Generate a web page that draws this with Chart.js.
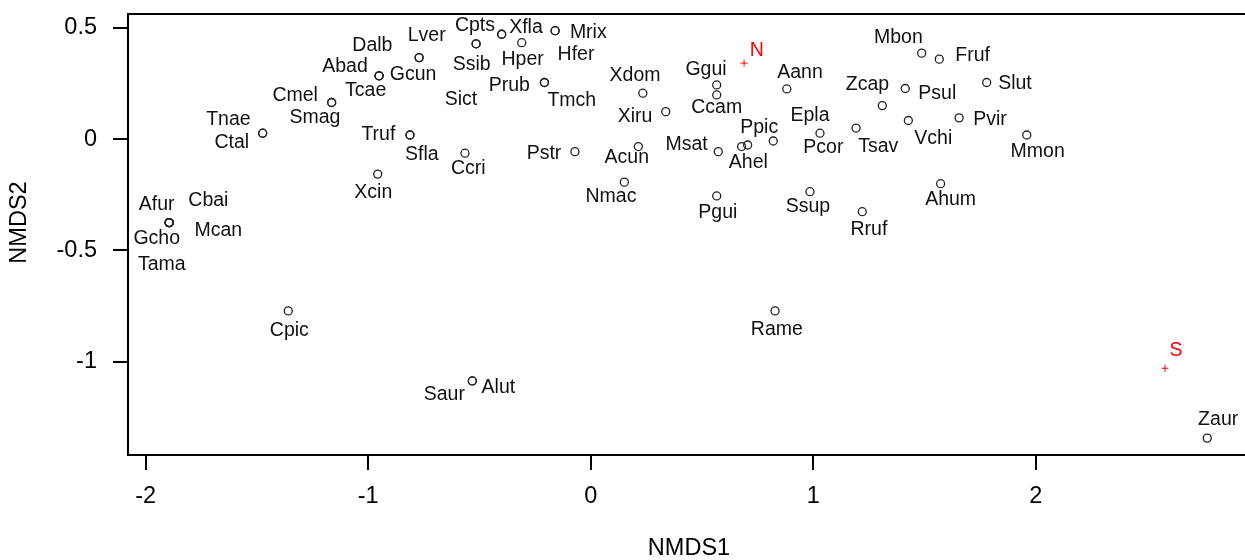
<!DOCTYPE html>
<html>
<head>
<meta charset="utf-8">
<title>NMDS</title>
<script src="https://cdn.jsdelivr.net/npm/chart.js@4"></script>
<style>
  html, body { margin: 0; padding: 0; background: #fff; overflow: hidden; }
  #wrap { width: 1245px; height: 560px; overflow: hidden; }
</style>
</head>
<body>
<div id="wrap"><canvas id="nmdsChart" width="1260" height="560"></canvas></div>
<script>
// species scores (point) and where the label sits
const species = ['Tnae', 'Ctal', 'Cmel', 'Smag', 'Abad', 'Tcae', 'Gcun', 'Dalb', 'Lver', 'Ssib',
    'Sict', 'Cpts', 'Xfla', 'Hper', 'Mrix', 'Hfer', 'Prub', 'Tmch', 'Xdom', 'Xiru',
    'Ggui', 'Ccam', 'Aann', 'Truf', 'Sfla', 'Ccri', 'Pstr', 'Acun', 'Nmac', 'Msat',
    'Ahel', 'Ppic', 'Epla', 'Pcor', 'Pgui', 'Ssup', 'Mbon', 'Fruf', 'Slut', 'Psul',
    'Zcap', 'Vchi', 'Pvir', 'Tsav', 'Mmon', 'Ahum', 'Rruf', 'Afur', 'Cbai', 'Gcho',
    'Mcan', 'Tama', 'Xcin', 'Cpic', 'Saur', 'Alut', 'Rame', 'Zaur'];
const spX = [-1.474, -1.474, -1.164, -1.164, -0.951, -0.951, -0.951, -0.771, -0.771, -0.515,
    -0.515, -0.400, -0.400, -0.310, -0.160, -0.160, -0.208, -0.208, 0.234, 0.337,
    0.566, 0.566, 0.881, -0.812, -0.812, -0.565, -0.071, 0.214, 0.151, 0.573,
    0.678, 0.705, 0.820, 1.030, 0.566, 0.985, 1.487, 1.566, 1.779, 1.413,
    1.310, 1.427, 1.655, 1.192, 1.959, 1.572, 1.220, -1.894, -1.894, -1.894,
    -1.894, -1.894, -0.957, -1.359, -0.532, -0.532, 0.828, 2.770];
const spY = [0.027, 0.027, 0.165, 0.165, 0.285, 0.285, 0.285, 0.367, 0.367, 0.429,
    0.429, 0.472, 0.472, 0.434, 0.488, 0.488, 0.255, 0.255, 0.207, 0.124,
    0.244, 0.199, 0.226, 0.019, 0.019, -0.063, -0.056, -0.033, -0.193, -0.056,
    -0.033, -0.026, -0.008, 0.027, -0.255, -0.236, 0.387, 0.360, 0.255, 0.228,
    0.151, 0.084, 0.096, 0.050, 0.019, -0.200, -0.326, -0.375, -0.375, -0.375,
    -0.375, -0.375, -0.157, -0.772, -1.087, -1.087, -0.772, -1.344];
const labX = [-1.628, -1.613, -1.328, -1.239, -1.104, -1.011, -0.798, -0.981, -0.737, -0.535,
    -0.583, -0.520, -0.291, -0.306, -0.011, -0.066, -0.366, -0.085, 0.199, 0.199,
    0.518, 0.566, 0.940, -0.954, -0.759, -0.550, -0.210, 0.162, 0.091, 0.431,
    0.708, 0.757, 0.985, 1.045, 0.571, 0.976, 1.382, 1.716, 1.906, 1.557,
    1.243, 1.539, 1.794, 1.292, 2.008, 1.617, 1.250, -1.950, -1.718, -1.950,
    -1.673, -1.927, -0.977, -1.354, -0.658, -0.415, 0.836, 2.819];
const labY = [0.094, -0.011, 0.199, 0.102, 0.330, 0.224, 0.294, 0.427, 0.469, 0.342,
    0.182, 0.514, 0.506, 0.364, 0.484, 0.387, 0.244, 0.177, 0.289, 0.105,
    0.316, 0.147, 0.303, 0.027, -0.063, -0.130, -0.060, -0.078, -0.255, -0.021,
    -0.101, 0.057, 0.109, -0.033, -0.326, -0.300, 0.461, 0.382, 0.255, 0.211,
    0.252, 0.009, 0.094, -0.030, -0.053, -0.268, -0.400, -0.291, -0.270, -0.441,
    -0.405, -0.558, -0.236, -0.854, -1.145, -1.112, -0.850, -1.255];

// site scores (red crosses)
const sites = ['N', 'S'];
const siteX = [0.689, 2.580];
const siteY = [0.342, -1.030];
const siteLabX = [0.746, 2.629];
const siteLabY = [0.405, -0.947];

const xTicks = [-2, -1, 0, 1, 2];
const yTicks = [0.5, 0, -0.5, -1];

document.addEventListener("DOMContentLoaded", () => {

    const fontFamily = "'Liberation Sans', Arial, Helvetica, sans-serif";

    // labels drawn next to the points, through the chart scales
    const labelPlugin = {
        id: 'pointLabels',
        afterDatasetsDraw(chart) {
            const ctx = chart.ctx;
            const xs = chart.scales.x;
            const ys = chart.scales.y;
            ctx.save();
            ctx.font = `19.5px ${fontFamily}`;
            ctx.textAlign = 'center';
            ctx.textBaseline = 'middle';
            ctx.fillStyle = '#111';
            // +1 so the cap height sits where R put it
            species.forEach((name, i) => {
                ctx.fillText(name, xs.getPixelForValue(labX[i]), ys.getPixelForValue(labY[i]) + 1);
            });
            ctx.fillStyle = '#ff0000';
            sites.forEach((name, i) => {
                ctx.fillText(name, xs.getPixelForValue(siteLabX[i]), ys.getPixelForValue(siteLabY[i]) + 1);
            });
            ctx.restore();
        }
    };

    // box round the plot region + the NMDS2 title (sits a bit above centre in the original)
    const boxPlugin = {
        id: 'plotBox',
        afterDraw(chart) {
            const a = chart.chartArea;
            const ctx = chart.ctx;
            ctx.save();
            ctx.strokeStyle = '#000';
            ctx.lineWidth = 2;
            ctx.strokeRect(a.left, a.top, a.right - a.left, a.bottom - a.top);

            ctx.translate(20, (a.top + a.bottom) / 2 - 12);
            ctx.rotate(-Math.PI / 2);
            ctx.font = `23.5px ${fontFamily}`;
            ctx.fillStyle = '#000';
            ctx.textAlign = 'center';
            ctx.textBaseline = 'middle';
            ctx.fillText('NMDS2', 0, 0);
            ctx.restore();
        }
    };

    new Chart(document.getElementById('nmdsChart'), {
        type: 'scatter',
        data: {
            datasets: [
                {
                    label: 'species',
                    data: spX.map((x, i) => ({ x: x, y: spY[i] })),
                    pointStyle: 'circle',
                    pointRadius: 4,
                    borderWidth: 1.3,
                    borderColor: '#222',
                    backgroundColor: 'rgba(0,0,0,0)',
                },
                {
                    label: 'sites',
                    data: siteX.map((x, i) => ({ x: x, y: siteY[i] })),
                    pointStyle: 'cross',
                    pointRadius: 3.5,
                    borderWidth: 1,
                    borderColor: '#ff0000',
                },
            ],
        },
        options: {
            responsive: false,
            animation: false,
            devicePixelRatio: 1,
            layout: { padding: { top: 14, right: 10, left: 0, bottom: 0 } },
            plugins: {
                legend: { display: false },
                tooltip: { enabled: false },
            },
            scales: {
                x: {
                    type: 'linear',
                    min: -2.079,
                    max: 2.962,
                    afterBuildTicks: scale => { scale.ticks = xTicks.map(v => ({ value: v })); },
                    afterFit: scale => {
                        scale.height = 105;
                        scale.paddingLeft = 0;
                        scale.paddingRight = 0;
                    },
                    grid: { drawOnChartArea: false, tickLength: 15, lineWidth: 2, color: '#000' },
                    border: { display: false },
                    ticks: {
                        color: '#000',
                        padding: 12,
                        maxRotation: 0,
                        font: { family: fontFamily, size: 23.5 },
                        callback: v => String(v),
                    },
                    title: {
                        display: true,
                        text: 'NMDS1',
                        color: '#000',
                        padding: 0,
                        font: { family: fontFamily, size: 23.5, lineHeight: 1 },
                    },
                },
                y: {
                    type: 'linear',
                    min: -1.42,
                    max: 0.563,
                    afterBuildTicks: scale => { scale.ticks = yTicks.map(v => ({ value: v })); },
                    afterFit: scale => {
                        scale.width = 128;
                        scale.paddingTop = 0;
                        scale.paddingBottom = 0;
                    },
                    grid: { drawOnChartArea: false, tickLength: 15, lineWidth: 2, color: '#000' },
                    border: { display: false },
                    ticks: {
                        color: '#000',
                        padding: 16,
                        font: { family: fontFamily, size: 23.5 },
                        callback: v => String(v),
                    },
                    title: { display: false },
                },
            },
        },
        plugins: [labelPlugin, boxPlugin],
    });
});
</script>
</body>
</html>
